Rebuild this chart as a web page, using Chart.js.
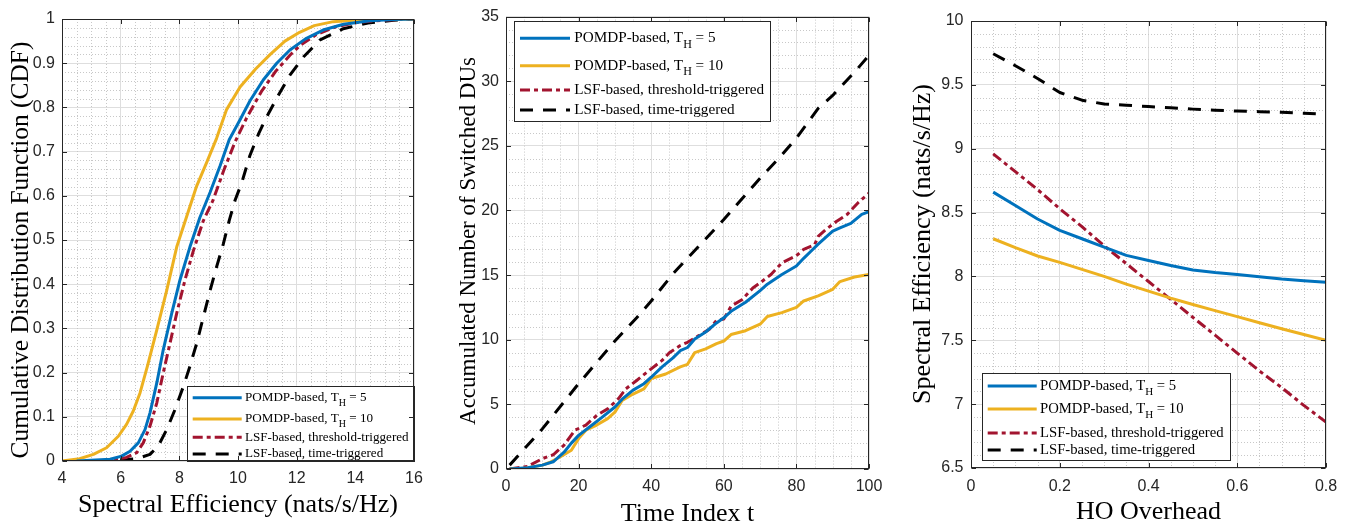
<!DOCTYPE html>
<html>
<head>
<meta charset="utf-8">
<title>DU switching results</title>
<script src="https://cdn.jsdelivr.net/npm/chart.js@4.4.0/dist/chart.umd.min.js"></script>
<style>
    html, body { margin: 0; padding: 0; background: #fff; }
    #wrap { position: relative; width: 1349px; height: 527px; overflow: hidden; }
    .panel { position: absolute; top: 0; }
</style>
</head>
<body>
<div id="wrap">
    <canvas id="cdfChart" class="panel" style="left:0" width="450" height="527"></canvas>
    <canvas id="duChart" class="panel" style="left:450px" width="450" height="527"></canvas>
    <canvas id="hoChart" class="panel" style="left:900px" width="449" height="527"></canvas>
</div>
<script>
// series names (shared by all three panels)
var seriesNames = [
    'POMDP-based, T_H = 5',
    'POMDP-based, T_H = 10',
    'LSF-based, threshold-triggered',
    'LSF-based, time-triggered'
];

// ---- CDF of spectral efficiency ----
var cdfXTicks = [4, 6, 8, 10, 12, 14, 16];
var cdfYTicks = [0, 0.1, 0.2, 0.3, 0.4, 0.5, 0.6, 0.7, 0.8, 0.9, 1];
var cdfYLabels = ['0', '0.1', '0.2', '0.3', '0.4', '0.5', '0.6', '0.7', '0.8', '0.9', '1'];

var sePomdp5 = [4.5, 5.64, 6.03, 6.32, 6.6, 6.83, 7.0, 7.23, 7.45, 7.74, 8.02, 8.36, 8.7, 9.05, 9.39, 9.7, 10.07, 10.41, 10.86, 11.32, 11.77, 12.3, 12.9, 13.6, 14.5, 15.3, 16];
var cdfPomdp5 = [0, 0.004, 0.011, 0.022, 0.041, 0.071, 0.109, 0.176, 0.251, 0.334, 0.409, 0.484, 0.551, 0.608, 0.668, 0.727, 0.772, 0.815, 0.862, 0.9, 0.93, 0.955, 0.975, 0.988, 0.996, 0.999, 1];

var sePomdp10 = [4.0, 4.6, 5.07, 5.52, 5.92, 6.2, 6.43, 6.66, 6.91, 7.23, 7.57, 7.91, 8.25, 8.59, 8.93, 9.27, 9.61, 10.07, 10.6, 11.1, 11.6, 12.1, 12.6, 13.25, 14.05, 15.0, 16.0];
var cdfPomdp10 = [0, 0.005, 0.015, 0.03, 0.056, 0.083, 0.113, 0.154, 0.214, 0.296, 0.386, 0.484, 0.553, 0.622, 0.675, 0.73, 0.795, 0.846, 0.887, 0.92, 0.95, 0.97, 0.985, 0.994, 0.998, 0.9995, 1];

var seLsfThr = [5.3, 5.75, 6.2, 6.55, 6.77, 7.0, 7.23, 7.45, 7.68, 7.91, 8.19, 8.48, 8.82, 9.15, 9.5, 9.9, 10.3, 10.8, 11.3, 11.77, 12.11, 12.68, 13.36, 14.16, 15.07, 16];
var cdfLsfThr = [0, 0.002, 0.008, 0.019, 0.041, 0.079, 0.131, 0.199, 0.266, 0.334, 0.409, 0.476, 0.544, 0.59, 0.655, 0.722, 0.777, 0.836, 0.883, 0.918, 0.94, 0.965, 0.983, 0.993, 0.998, 1];

var seLsfTime = [5.2, 6.55, 7.0, 7.28, 7.57, 7.85, 8.14, 8.36, 8.59, 8.82, 9.05, 9.27, 9.5, 9.7, 9.9, 10.13, 10.4, 10.7, 10.98, 11.38, 11.77, 12.23, 12.8, 13.59, 14.43, 15.3, 16];
var cdfLsfTime = [0, 0.005, 0.015, 0.034, 0.071, 0.116, 0.169, 0.214, 0.266, 0.326, 0.386, 0.439, 0.491, 0.544, 0.59, 0.63, 0.69, 0.74, 0.779, 0.828, 0.873, 0.914, 0.953, 0.978, 0.991, 0.997, 1];

// ---- accumulated number of switched DUs ----
var duXTicks = [0, 20, 40, 60, 80, 100];
var duYTicks = [0, 5, 10, 15, 20, 25, 30, 35];

var tPomdp5 = [1, 6, 10, 13, 16, 18, 20, 23, 26, 30, 32, 35, 38, 40, 43, 46, 48, 50, 52, 55, 58, 60, 62, 66, 70, 72, 76, 80, 82, 84, 86, 88, 90, 92, 95, 98, 100];
var duPomdp5 = [0, 0.1, 0.3, 0.56, 1.3, 2.0, 2.6, 3.25, 3.9, 4.8, 5.4, 6.1, 6.6, 7.1, 7.9, 8.6, 9.15, 9.4, 10.05, 10.6, 11.3, 11.7, 12.2, 12.9, 13.8, 14.3, 15.05, 15.7, 16.3, 16.85, 17.4, 17.9, 18.4, 18.65, 19.0, 19.7, 19.9];

var tPomdp10 = [1, 5, 10, 12, 15, 18, 20, 22, 25, 28, 30, 32, 35, 38, 40, 44, 48, 50, 52, 55, 58, 60, 62, 66, 70, 72, 76, 80, 82, 86, 90, 92, 96, 100];
var duPomdp10 = [0, 0.05, 0.3, 0.5, 0.95, 1.45, 2.35, 3.0, 3.4, 3.9, 4.4, 5.3, 5.8, 6.2, 7.0, 7.35, 7.9, 8.1, 9.0, 9.3, 9.7, 9.9, 10.4, 10.7, 11.2, 11.8, 12.1, 12.5, 13.0, 13.4, 13.9, 14.5, 14.85, 15.05];

var tLsfThr = [1, 6, 10, 13, 16, 19, 22, 25, 28, 31, 33, 36, 40, 43, 45, 48, 50, 53, 56, 58, 60, 62, 65, 68, 70, 73, 76, 80, 82, 85, 86, 88, 91, 94, 97, 100];
var duLsfThr = [0, 0.2, 0.8, 1.1, 1.85, 3.0, 3.4, 4.15, 4.65, 5.45, 6.2, 6.85, 7.75, 8.4, 9.0, 9.55, 9.8, 10.3, 10.8, 11.5, 11.6, 12.6, 13.1, 14.0, 14.4, 15.05, 15.95, 16.5, 17.0, 17.35, 18.0, 18.5, 19.15, 19.7, 20.6, 21.35];

var tLsfTime = [1, 10, 20, 30, 36, 40, 46, 50, 56, 60, 70, 76, 80, 86, 90, 96, 100];
var duLsfTime = [0.3, 3.1, 6.6, 9.9, 11.7, 13.0, 15.1, 16.3, 18.1, 19.3, 22.5, 24.3, 25.6, 27.9, 28.9, 30.7, 32.0];

// ---- spectral efficiency versus HO overhead ----
var hoXTicks = [0, 0.2, 0.4, 0.6, 0.8];
var hoXLabels = ['0', '0.2', '0.4', '0.6', '0.8'];
var hoYTicks = [6.5, 7, 7.5, 8, 8.5, 9, 9.5, 10];
var hoYLabels = ['6.5', '7', '7.5', '8', '8.5', '9', '9.5', '10'];

var hoOverhead = [0.05, 0.1, 0.15, 0.2, 0.25, 0.3, 0.35, 0.4, 0.45, 0.5, 0.55, 0.6, 0.65, 0.7, 0.75, 0.8];
var hoPomdp5 = [8.66, 8.556, 8.45, 8.36, 8.295, 8.23, 8.165, 8.125, 8.085, 8.05, 8.03, 8.015, 7.998, 7.98, 7.967, 7.955];
var hoPomdp10 = [8.295, 8.225, 8.16, 8.11, 8.055, 8.0, 7.94, 7.885, 7.83, 7.78, 7.732, 7.685, 7.637, 7.59, 7.545, 7.50];
var hoLsfThr = [8.96, 8.82, 8.68, 8.53, 8.39, 8.24, 8.1, 7.96, 7.82, 7.68, 7.54, 7.40, 7.26, 7.13, 6.99, 6.86];
var hoLsfTime = [9.744, 9.65, 9.55, 9.44, 9.38, 9.35, 9.34, 9.33, 9.32, 9.31, 9.302, 9.295, 9.29, 9.285, 9.278, 9.27];

var COLORS = ['#0072BD', '#EDB120', '#A2142F', '#000000'];
var DASHES = [[], [], [10, 4, 4, 4], [13, 10]];
var AXIS_COLOR = '#262626';
var SERIF = '"Liberation Serif", "Times New Roman", serif';
var SANS = '"Liberation Sans", Arial, Helvetica, sans-serif';

function pairs(xs, ys) {
    return xs.map(function (x, i) { return { x: x, y: ys[i] }; });
}

function makeDatasets(list) {
    return list.map(function (d, i) {
        return {
            label: seriesNames[i],
            data: pairs(d[0], d[1]),
            borderColor: COLORS[i],
            backgroundColor: COLORS[i],
            borderWidth: 3,
            borderDash: DASHES[i],
            borderCapStyle: 'butt',
            borderJoinStyle: 'round',
            pointRadius: 0,
            tension: 0,
            fill: false
        };
    });
}

// text like "T_H" gets its H drawn as a subscript
function drawRichText(ctx, text, x, y, size) {
    var m = text.match(/^(.*?)_(\w)(.*)$/);
    ctx.textBaseline = 'middle';
    ctx.textAlign = 'left';
    ctx.fillStyle = '#000';
    ctx.font = size + 'px ' + SERIF;
    if (!m) {
        ctx.fillText(text, x, y);
        return;
    }
    ctx.fillText(m[1], x, y);
    x += ctx.measureText(m[1]).width;
    ctx.font = Math.round(size * 0.78) + 'px ' + SERIF;
    ctx.fillText(m[2], x, y + size * 0.42);
    x += ctx.measureText(m[2]).width;
    ctx.font = size + 'px ' + SERIF;
    ctx.fillText(m[3], x, y);
}

// minor dotted grid, boxed axes with inward ticks, y-axis title and the boxed legend
var matlabAxes = {
    id: 'matlabAxes',
    beforeDatasetsDraw: function (chart, args, opts) {
        var ctx = chart.ctx, a = chart.chartArea;
        ctx.save();
        ctx.strokeStyle = '#c8c8c8';
        ctx.lineWidth = 1;
        ctx.setLineDash([1, 2]);
        [['x', opts.xMinor, opts.xMajor], ['y', opts.yMinor, opts.yMajor]].forEach(function (s) {
            var scale = chart.scales[s[0]];
            var n = Math.round((scale.max - scale.min) / s[1]);
            var ratio = Math.round(s[2] / s[1]);
            for (var i = 1; i < n; i++) {
                if (i % ratio === 0) continue;
                var p = Math.round(scale.getPixelForValue(scale.min + i * s[1])) + 0.5;
                ctx.beginPath();
                if (s[0] === 'x') { ctx.moveTo(p, a.top); ctx.lineTo(p, a.bottom); }
                else { ctx.moveTo(a.left, p); ctx.lineTo(a.right, p); }
                ctx.stroke();
            }
        });
        ctx.restore();

        // y-axis title, rotated
        var yt = opts.yTitle;
        ctx.save();
        ctx.translate(yt.x, yt.y);
        ctx.rotate(-Math.PI / 2);
        ctx.fillStyle = '#000';
        ctx.font = yt.size + 'px ' + SERIF;
        ctx.textAlign = 'center';
        ctx.textBaseline = 'middle';
        ctx.fillText(yt.text, 0, 0);
        ctx.restore();
    },
    afterDatasetsDraw: function (chart, args, opts) {
        var ctx = chart.ctx, lg = opts.legend;
        ctx.save();
        ctx.fillStyle = '#fff';
        ctx.fillRect(lg.box[0], lg.box[1], lg.box[2] - lg.box[0], lg.box[3] - lg.box[1]);
        ctx.strokeStyle = AXIS_COLOR;
        ctx.lineWidth = 1;
        ctx.strokeRect(Math.round(lg.box[0]) + 0.5, Math.round(lg.box[1]) + 0.5,
            Math.round(lg.box[2] - lg.box[0]), Math.round(lg.box[3] - lg.box[1]));
        chart.data.datasets.forEach(function (ds, i) {
            var yy = lg.rows[i];
            ctx.beginPath();
            ctx.setLineDash(ds.borderDash);
            ctx.lineCap = 'butt';
            ctx.strokeStyle = ds.borderColor;
            ctx.lineWidth = ds.borderWidth;
            ctx.moveTo(lg.line[0], yy);
            ctx.lineTo(lg.line[1], yy);
            ctx.stroke();
            ctx.setLineDash([]);
            drawRichText(ctx, ds.label, lg.textX, yy, lg.size);
        });
        ctx.restore();
    },
    afterDraw: function (chart) {
        var ctx = chart.ctx, a = chart.chartArea;
        var L = Math.round(a.left) + 0.5, R = Math.round(a.right) - 0.5;
        var T = Math.round(a.top) + 0.5, B = Math.round(a.bottom) - 0.5;
        var tl = 4.5;
        ctx.save();
        ctx.strokeStyle = AXIS_COLOR;
        ctx.lineWidth = 1;
        ctx.setLineDash([]);
        ctx.strokeRect(L, T, R - L, B - T);
        ctx.beginPath();
        chart.scales.x.ticks.forEach(function (t) {
            var p = Math.round(chart.scales.x.getPixelForValue(t.value)) + 0.5;
            ctx.moveTo(p, B); ctx.lineTo(p, B - tl);
            ctx.moveTo(p, T); ctx.lineTo(p, T + tl);
        });
        chart.scales.y.ticks.forEach(function (t) {
            var p = Math.round(chart.scales.y.getPixelForValue(t.value)) + 0.5;
            ctx.moveTo(L, p); ctx.lineTo(L + tl, p);
            ctx.moveTo(R, p); ctx.lineTo(R - tl, p);
        });
        ctx.stroke();
        ctx.restore();
    }
};

function axis(cfg) {
    return {
        type: 'linear',
        min: cfg.ticks[0],
        max: cfg.ticks[cfg.ticks.length - 1],
        afterBuildTicks: function (s) {
            s.ticks = cfg.ticks.map(function (v) { return { value: v }; });
        },
        afterFit: function (s) {
            if (s.isHorizontal()) s.height = cfg.size; else s.width = cfg.size;
        },
        grid: { color: '#dedede', lineWidth: 1, drawTicks: false },
        border: { display: false },
        ticks: {
            color: AXIS_COLOR,
            font: { family: SANS, size: 16 },
            padding: cfg.pad,
            maxRotation: 0,
            autoSkip: false,
            callback: function (v, i) { return cfg.labels ? cfg.labels[i] : String(v); }
        },
        title: {
            display: !!cfg.title,
            text: cfg.title || '',
            color: '#000',
            font: { family: SERIF, size: cfg.titleSize || 26, lineHeight: 1 },
            padding: cfg.titlePad || 0
        }
    };
}

function buildChart(id, sets, o) {
    return new Chart(document.getElementById(id), {
        type: 'line',
        data: { datasets: makeDatasets(sets) },
        options: {
            responsive: false,
            animation: false,
            devicePixelRatio: 1,
            layout: { padding: { left: 0, right: o.padRight, top: o.padTop, bottom: 0 } },
            plugins: {
                legend: { display: false },
                tooltip: { enabled: false },
                matlabAxes: o.grid
            },
            scales: { x: o.x, y: o.y }
        },
        plugins: [matlabAxes]
    });
}

buildChart('cdfChart', [
    [sePomdp5, cdfPomdp5], [sePomdp10, cdfPomdp10], [seLsfThr, cdfLsfThr], [seLsfTime, cdfLsfTime]
], {
    padRight: 36, padTop: 19,
    x: axis({ ticks: cdfXTicks, size: 66, pad: 8.4, title: 'Spectral Efficiency (nats/s/Hz)', titleSize: 26, titlePad: { top: 0, bottom: 9 } }),
    y: axis({ ticks: cdfYTicks, labels: cdfYLabels, size: 62, pad: 7 }),
    grid: {
        xMinor: 0.5, xMajor: 2, yMinor: 0.02, yMajor: 0.1,
        yTitle: { text: 'Cumulative Distribution Function (CDF)', x: 21, y: 250, size: 25.4 },
        legend: { box: [187, 385.7, 414, 461], rows: [397.7, 419, 437.3, 454], line: [192.7, 241.7], textX: 245, size: 13.1 }
    }
});

buildChart('duChart', [
    [tPomdp5, duPomdp5], [tPomdp10, duPomdp10], [tLsfThr, duLsfThr], [tLsfTime, duLsfTime]
], {
    padRight: 31, padTop: 14,
    x: axis({ ticks: duXTicks, size: 58, pad: 8.4, title: 'Time Index t', titleSize: 26, titlePad: { top: 0, bottom: 0 } }),
    y: axis({ ticks: duYTicks, size: 56, pad: 7 }),
    grid: {
        xMinor: 5, xMajor: 20, yMinor: 1, yMajor: 5,
        yTitle: { text: 'Accumulated Number of Switched DUs', x: 19, y: 241, size: 23 },
        legend: { box: [64.3, 21, 320, 121], rows: [38.3, 65.7, 90, 110], line: [70, 120], textX: 124.3, size: 15.2 }
    }
});

buildChart('hoChart', [
    [hoOverhead, hoPomdp5], [hoOverhead, hoPomdp10], [hoOverhead, hoLsfThr], [hoOverhead, hoLsfTime]
], {
    padRight: 23, padTop: 21,
    x: axis({ ticks: hoXTicks, labels: hoXLabels, size: 59, pad: 8.7, title: 'HO Overhead', titleSize: 26, titlePad: { top: 0, bottom: 2 } }),
    y: axis({ ticks: hoYTicks, labels: hoYLabels, size: 71, pad: 7.5 }),
    grid: {
        xMinor: 0.05, xMajor: 0.2, yMinor: 0.1, yMajor: 0.5,
        yTitle: { text: 'Spectral Efficiency (nats/s/Hz)', x: 23, y: 244, size: 26 },
        legend: { box: [82.3, 373.3, 330, 460], rows: [386, 409, 433, 450], line: [87.7, 136.7], textX: 140, size: 14.7 }
    }
});
</script>
</body>
</html>
